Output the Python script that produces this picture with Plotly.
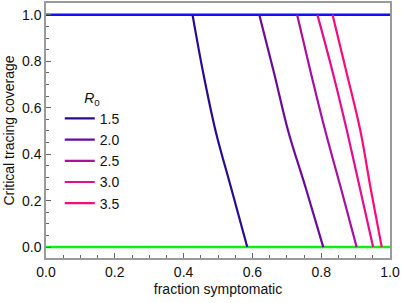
import plotly.graph_objects as go

# Data
r0_labels = ["1.5", "2.0", "2.5", "3.0", "3.5"]
coverage = [1.0, 0.75, 0.5, 0.25, 0.0]
frac_15 = [0.426, 0.457, 0.493, 0.539, 0.585]
frac_20 = [0.620, 0.663, 0.704, 0.756, 0.806]
frac_25 = [0.730, 0.770, 0.812, 0.858, 0.903]
frac_30 = [0.789, 0.834, 0.875, 0.913, 0.951]
frac_35 = [0.833, 0.874, 0.914, 0.944, 0.976]
series = [frac_15, frac_20, frac_25, frac_30, frac_35]
colors = ["#2c0a90", "#6a0a9e", "#a8109e", "#e80c8c", "#ff0a78"]

upper_x = [0.0, 1.0]
upper_y = [1.0, 1.0]
lower_x = [0.0, 1.0]
lower_y = [0.0, 0.0]

fig = go.Figure()
fig.add_trace(go.Scatter(x=upper_x, y=upper_y, mode="lines",
                         line=dict(color="#1010ff", width=2.5), showlegend=False))
fig.add_trace(go.Scatter(x=lower_x, y=lower_y, mode="lines",
                         line=dict(color="#10f010", width=2.5), showlegend=False))
for lab, xs, c in zip(r0_labels, series, colors):
    fig.add_trace(go.Scatter(x=xs, y=coverage, mode="lines", name=lab,
                             line=dict(color=c, width=2.2, shape="spline")))

font_family = "Liberation Sans, Arial, sans-serif"
axis_common = dict(
    showgrid=False, zeroline=False, showline=True, mirror=True,
    linecolor="#9a9a9a", linewidth=1.5,
    ticks="inside", ticklen=5, tickcolor="#666", tickwidth=1,
    tickfont=dict(size=14, color="#111", family=font_family),
    tickformat=".1f", dtick=0.2, tick0=0,
    minor=dict(ticks="inside", ticklen=3, dtick=0.05, tickcolor="#666", tickwidth=1),
)

fig.update_layout(
    width=401, height=303,
    margin=dict(l=46, r=10, t=1, b=45),
    paper_bgcolor="white", plot_bgcolor="white",
    font=dict(family=font_family, size=14, color="#111"),
    xaxis=dict(range=[0, 1], title=dict(text="fraction symptomatic", standoff=6,
                                        font=dict(size=14)), **axis_common),
    yaxis=dict(range=[-0.047, 1.051], title=dict(text="Critical tracing coverage", standoff=4,
                                                 font=dict(size=14)), **axis_common),
    legend=dict(x=0.04, y=0.68, xanchor="left", yanchor="top",
                title=dict(text="<i>R</i><sub>0</sub>", font=dict(size=14), side="top center"),
                font=dict(size=14, family=font_family), bgcolor="rgba(0,0,0,0)",
                itemwidth=30, tracegroupgap=0),
)

fig.write_html("out.html", config={"displayModeBar": False},
               post_script="document.body.style.margin='0px';document.body.style.overflow='hidden';")
